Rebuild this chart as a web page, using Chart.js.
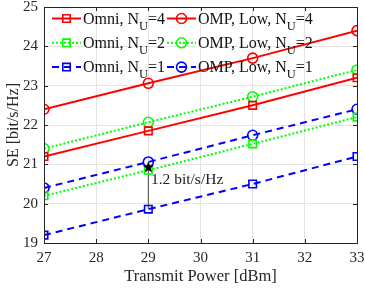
<!DOCTYPE html>
<html>
<head>
<meta charset="utf-8">
<script src="https://cdn.jsdelivr.net/npm/chart.js@4/dist/chart.umd.min.js"></script>
<style>
  html, body { margin: 0; padding: 0; background: #fff; }
  #wrap { width: 365px; height: 291px; }
</style>
</head>
<body>
<div id="wrap"><canvas id="c" width="365" height="291"></canvas></div>
<script>
// --- datos ---
const powerDbm = [27, 29, 31, 33];
const omniN4 = [21.2, 21.85, 22.5, 23.2];
const ompN4 = [22.4, 23.06, 23.7, 24.4];
const omniN2 = [20.2, 20.85, 21.52, 22.2];
const ompN2 = [21.4, 22.07, 22.72, 23.4];
const omniN1 = [19.2, 19.86, 20.5, 21.2];
const ompN1 = [20.4, 21.06, 21.74, 22.4];
const xTicks = [27, 28, 29, 30, 31, 32, 33];
const yTicks = [19, 20, 21, 22, 23, 24, 25];
const legendLabels = ['Omni, N_U=4', 'OMP, Low, N_U=4', 'Omni, N_U=2', 'OMP, Low, N_U=2', 'Omni, N_U=1', 'OMP, Low, N_U=1'];
// flecha de la diferencia en 29 dBm
const gapX = 29;
const gapFrom = 19.86;
const gapTo = 20.95;
const gapText = '1.2 bit/s/Hz';
const gapTextAt = { x: 29.05, y: 20.6 };

const RED = '#ff0000', GREEN = '#00ff00', BLUE = '#0000ff';
const SERIF = '"Liberation Serif", "Times New Roman", serif';
const AXIS = '#262626';

const pts = (ys) => powerDbm.map((x, i) => ({ x, y: ys[i] }));

function series(label, ys, color, dash, style) {
    return {
        label,
        data: pts(ys),
        borderColor: color,
        borderWidth: 2,
        borderDash: dash,
        pointStyle: style,
        pointRadius: style === 'rect' ? 5.3 : 5,
        pointBorderColor: color,
        pointBackgroundColor: 'rgba(0,0,0,0)',
        pointBorderWidth: 1.6,
        tension: 0,
        fill: false
    };
}

const datasets = [
    series(legendLabels[0], omniN4, RED, [], 'rect'),
    series(legendLabels[1], ompN4, RED, [], 'circle'),
    series(legendLabels[2], omniN2, GREEN, [2, 2], 'rect'),
    series(legendLabels[3], ompN2, GREEN, [2, 2], 'circle'),
    series(legendLabels[4], omniN1, BLUE, [7, 5], 'rect'),
    series(legendLabels[5], ompN1, BLUE, [7, 5], 'circle'),
    {
        label: 'gap',
        data: [{ x: gapX, y: gapFrom }, { x: gapX, y: gapTo }],
        borderColor: '#444',
        borderWidth: 1,
        pointRadius: 0,
        fill: false
    }
];

function marker(ctx, style, x, y, color) {
    ctx.save();
    ctx.setLineDash([]);
    ctx.strokeStyle = color;
    ctx.lineWidth = 1.6;
    ctx.beginPath();
    if (style === 'rect') {
        const s = 3.7;
        ctx.rect(x - s, y - s, 2 * s, 2 * s);
    } else {
        ctx.arc(x, y, 5, 0, Math.PI * 2);
    }
    ctx.stroke();
    ctx.restore();
}

function drawSubLabel(ctx, text, x, y) {
    const [head, rest] = text.split('_');
    const sub = rest.charAt(0);
    const tail = rest.slice(1);
    ctx.fillStyle = '#111';
    ctx.textBaseline = 'alphabetic';
    ctx.textAlign = 'left';
    ctx.font = '16px ' + SERIF;
    ctx.fillText(head, x, y);
    let w = ctx.measureText(head).width;
    ctx.font = '12.5px ' + SERIF;
    ctx.fillText(sub, x + w, y + 6);
    w += ctx.measureText(sub).width;
    ctx.font = '16px ' + SERIF;
    ctx.fillText(tail, x + w, y);
}

const framePlugin = {
    id: 'frame',
    afterDatasetsDraw(chart) {
        const { ctx, chartArea: a, scales } = chart;
        ctx.save();
        // caja completa y marcas hacia dentro
        ctx.strokeStyle = AXIS;
        ctx.lineWidth = 1;
        ctx.strokeRect(a.left + 0.5, a.top + 0.5, a.right - a.left, a.bottom - a.top);
        ctx.beginPath();
        xTicks.forEach(v => {
            const px = Math.round(scales.x.getPixelForValue(v)) + 0.5;
            ctx.moveTo(px, a.bottom); ctx.lineTo(px, a.bottom - 4);
            ctx.moveTo(px, a.top); ctx.lineTo(px, a.top + 4);
        });
        yTicks.forEach(v => {
            const py = Math.round(scales.y.getPixelForValue(v)) + 0.5;
            ctx.moveTo(a.left, py); ctx.lineTo(a.left + 4, py);
            ctx.moveTo(a.right, py); ctx.lineTo(a.right - 4, py);
        });
        ctx.stroke();

        // punta de la flecha (estrella negra) y texto
        const sx = scales.x.getPixelForValue(gapX);
        const sy = scales.y.getPixelForValue(gapTo);
        ctx.fillStyle = '#000';
        ctx.beginPath();
        for (let i = 0; i < 10; i++) {
            const r = i % 2 === 0 ? 6 : 2.6;
            const ang = -Math.PI / 2 + i * Math.PI / 5;
            const px = sx + r * Math.cos(ang), py = sy + 1 + r * Math.sin(ang);
            if (i === 0) ctx.moveTo(px, py); else ctx.lineTo(px, py);
        }
        ctx.closePath();
        ctx.fill();
        ctx.font = '15.5px ' + SERIF;
        ctx.textBaseline = 'middle';
        ctx.textAlign = 'left';
        ctx.fillStyle = '#222';
        ctx.fillText(gapText, scales.x.getPixelForValue(gapTextAt.x), scales.y.getPixelForValue(gapTextAt.y));

        // leyenda en dos columnas
        const cols = [{ lx: 52, tx: 83 }, { lx: 167, tx: 198 }];
        const styles = [[RED, []], [GREEN, [2, 2]], [BLUE, [7, 5]]];
        legendLabels.forEach((lab, i) => {
            const col = cols[i % 2];
            const row = Math.floor(i / 2);
            const y = 18.5 + row * 24.3;
            const [color, dash] = styles[row];
            ctx.save();
            ctx.strokeStyle = color;
            ctx.lineWidth = 2;
            ctx.setLineDash(dash);
            ctx.beginPath();
            ctx.moveTo(col.lx, y); ctx.lineTo(col.lx + 29, y);
            ctx.stroke();
            ctx.restore();
            marker(ctx, i % 2 === 0 ? 'rect' : 'circle', col.lx + 14.5, y, color);
            drawSubLabel(ctx, lab, col.tx, y + 5);
        });
        ctx.restore();
    }
};

new Chart(document.getElementById('c'), {
    type: 'line',
    data: { datasets },
    options: {
        responsive: false,
        animation: false,
        devicePixelRatio: 1,
        layout: { padding: { top: 7, right: 8, left: 0, bottom: 0 } },
        plugins: { legend: { display: false }, tooltip: { enabled: false } },
        scales: {
            x: {
                type: 'linear',
                min: 27, max: 33,
                afterBuildTicks: (s) => { s.ticks = xTicks.map(v => ({ value: v })); },
                afterFit: (s) => { s.height = 48; s.paddingLeft = 0; s.paddingRight = 0; },
                ticks: { color: AXIS, padding: 8, font: { family: SERIF, size: 15, lineHeight: 1 }, maxRotation: 0 },
                grid: { color: '#e4e4e4', drawTicks: false },
                border: { display: true, color: AXIS },
                title: { display: true, text: 'Transmit Power [dBm]', color: AXIS, font: { family: SERIF, size: 16.5 }, padding: { top: 0, bottom: 4 } }
            },
            y: {
                type: 'linear',
                min: 19, max: 25,
                afterBuildTicks: (s) => { s.ticks = yTicks.map(v => ({ value: v })); },
                afterFit: (s) => { s.width = 44; s.paddingTop = 0; s.paddingBottom = 0; },
                ticks: { color: AXIS, padding: 6, font: { family: SERIF, size: 15, lineHeight: 1 } },
                grid: { color: '#e4e4e4', drawTicks: false },
                border: { display: true, color: AXIS },
                title: { display: true, text: 'SE [bit/s/Hz]', color: AXIS, font: { family: SERIF, size: 16 }, padding: { top: 4, bottom: 0 } }
            }
        }
    },
    plugins: [framePlugin]
});
</script>
</body>
</html>
